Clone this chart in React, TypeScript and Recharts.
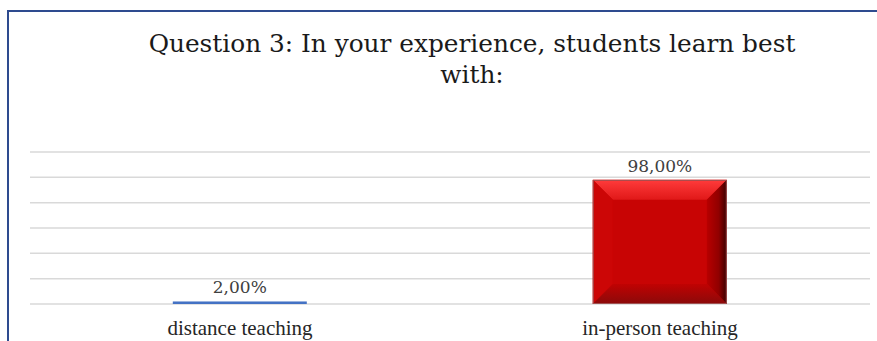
import { BarChart, Bar, XAxis, YAxis, CartesianGrid, Cell, LabelList } from "recharts";

const categories = ["distance teaching", "in-person teaching"];
const shares = [0.02, 0.98];
const barColors = ["#4472c4", "#c80404"];
const yTicks = [0, 0.2, 0.4, 0.6, 0.8, 1.0, 1.2];

const data = categories.map((c, i) => ({ category: c, share: shares[i] }));

const W = 877;
const H = 341;
const serif = "'DejaVu Serif', Georgia, serif";

function pct(v: unknown) {
  const n = typeof v === "number" ? v : Number(v);
  return (n * 100).toFixed(2).replace(".", ",") + "%";
}

// bevelled bar, like the Excel "angle" bevel
function BevelBar(props: any) {
  const { x, y, width, height, index } = props;
  if (height < 12) {
    return <rect x={x} y={y} width={width} height={Math.max(height, 2)} fill={barColors[index]} />;
  }
  const b = Math.min(20, width / 4, height / 4);
  const x2 = x + width;
  const y2 = y + height;
  return (
    <g>
      <defs>
        <linearGradient id="bvTop" x1="0" y1="0" x2="0" y2="1">
          <stop offset="0" stopColor="#ff3b3b" />
          <stop offset="1" stopColor="#e01818" />
        </linearGradient>
        <linearGradient id="bvRight" x1="0" y1="0" x2="1" y2="0">
          <stop offset="0" stopColor="#b80000" />
          <stop offset="0.6" stopColor="#900000" />
          <stop offset="1" stopColor="#3a0000" />
        </linearGradient>
        <linearGradient id="bvBottom" x1="0" y1="0" x2="0" y2="1">
          <stop offset="0" stopColor="#c00202" />
          <stop offset="1" stopColor="#8a0a0a" />
        </linearGradient>
      </defs>
      <rect x={x} y={y} width={width} height={height} fill={barColors[index]} />
      <polygon points={`${x},${y} ${x2},${y} ${x2 - b},${y + b} ${x + b},${y + b}`} fill="url(#bvTop)" />
      <polygon points={`${x},${y} ${x + b},${y + b} ${x + b},${y2 - b} ${x},${y2}`} fill="#cc0606" />
      <polygon points={`${x2},${y} ${x2},${y2} ${x2 - b},${y2 - b} ${x2 - b},${y + b}`} fill="url(#bvRight)" />
      <polygon points={`${x},${y2} ${x + b},${y2 - b} ${x2 - b},${y2 - b} ${x2},${y2}`} fill="url(#bvBottom)" />
      <rect x={x + 0.5} y={y + 0.5} width={width - 1} height={height - 1} fill="none" stroke="#a05050" strokeWidth={1} />
    </g>
  );
}

export default function App() {
  return (
    <div style={{ position: "absolute", left: 0, top: 0, width: W, height: H, background: "#fff", overflow: "hidden" }}>
      <div
        style={{
          position: "absolute",
          left: 7,
          top: 10,
          width: W,
          height: H,
          borderTop: "2px solid #2e4b8f",
          borderLeft: "2px solid #2e4b8f",
        }}
      />
      <div
        style={{
          position: "absolute",
          left: 0,
          width: W,
          top: 28,
          textAlign: "center",
          fontFamily: serif,
          fontSize: 24.8,
          lineHeight: "31px",
          color: "#1a1a1a",
          paddingLeft: 67,
          boxSizing: "border-box",
        }}
      >
        Question 3: In your experience, students learn best
        <br />
        with:
      </div>
      <div style={{ position: "absolute", left: 0, top: 0 }}>
        <BarChart
          width={W}
          height={H}
          data={data}
          margin={{ top: 152, right: 7, bottom: 7, left: 30 }}
          barCategoryGap="34%"
        >
          <CartesianGrid vertical={false} stroke="#d9d9d9" strokeWidth={1.5} />
          <YAxis hide domain={[0, 1.2]} ticks={yTicks} tickCount={7} interval={0} width={0} />
          <XAxis
            dataKey="category"
            height={30}
            axisLine={false}
            tickLine={false}
            tickMargin={10}
            tick={{ fontFamily: "'Liberation Serif', serif", fontSize: 21, fill: "#262626" }}
          />
          <Bar dataKey="share" shape={<BevelBar />} isAnimationActive={false}>
            {data.map((d, i) => (
              <Cell key={d.category} fill={barColors[i]} />
            ))}
            <LabelList
              dataKey="share"
              position="top"
              offset={8}
              formatter={pct}
              style={{ fontFamily: serif, fontSize: 17, fill: "#404040" }}
            />
          </Bar>
        </BarChart>
      </div>
    </div>
  );
}
